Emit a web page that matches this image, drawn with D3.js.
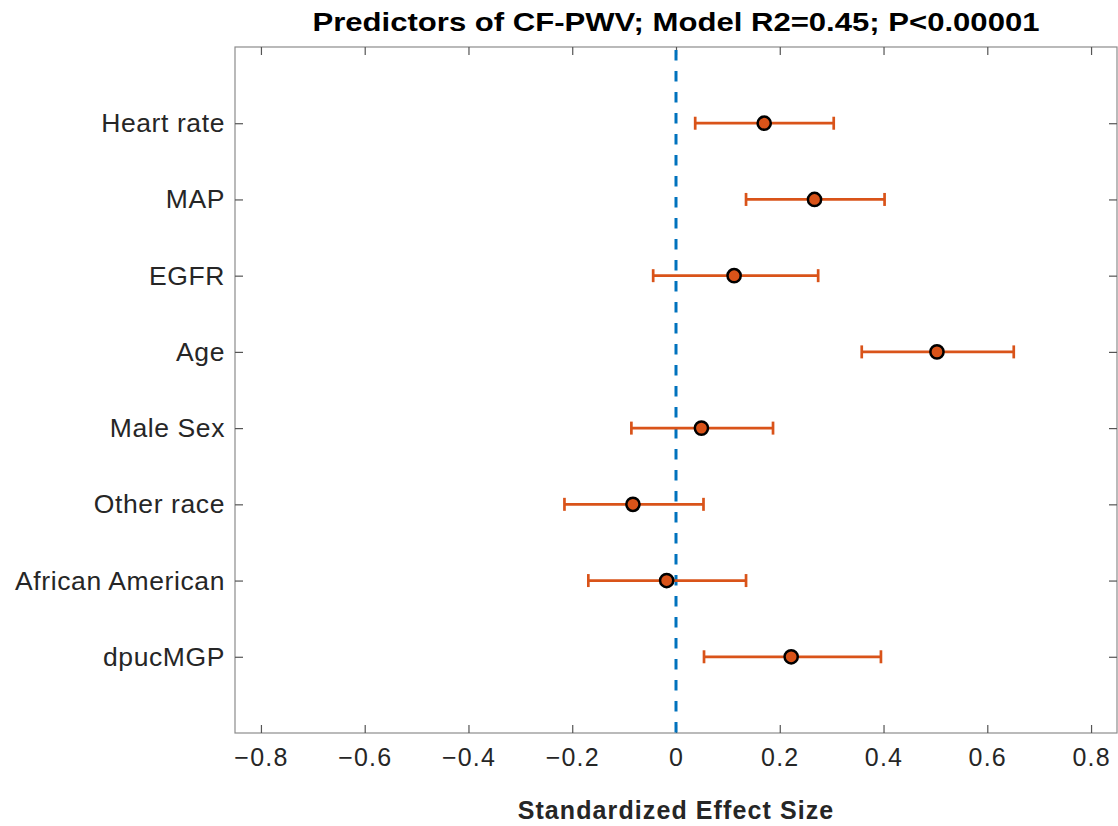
<!DOCTYPE html>
<html>
<head>
<meta charset="utf-8">
<script src="https://cdn.jsdelivr.net/npm/d3@7"></script>
<style>
  html, body { margin: 0; padding: 0; background: #fff; }
  svg { display: block; font-family: "Liberation Sans", Arial, Helvetica, sans-serif; }
</style>
</head>
<body>
<svg id="chart" width="1118" height="826"></svg>
<script>
// Predictors (top to bottom) with standardized effect sizes and 95% CI bounds
const predictors = ["Heart rate", "MAP", "EGFR", "Age", "Male Sex", "Other race", "African American", "dpucMGP"];
const estimates  = [0.170, 0.267, 0.112, 0.503, 0.049, -0.083, -0.018, 0.222];
const lowerCI    = [0.037, 0.135, -0.044, 0.358, -0.086, -0.215, -0.169, 0.054];
const upperCI    = [0.304, 0.402, 0.274, 0.651, 0.187, 0.053, 0.135, 0.395];
const xTicks     = [-0.8, -0.6, -0.4, -0.2, 0, 0.2, 0.4, 0.6, 0.8];

const svg = d3.select("#chart");
const m = { left: 235, right: 1117, top: 47, bottom: 733 };

const x = d3.scaleLinear().domain([-0.85, 0.85]).range([m.left, m.right]);
const y = d3.scaleLinear().domain([0, predictors.length + 1]).range([m.top, m.bottom]);

const orange = "#D95319", blue = "#0072BD", boxCol = "#8c8c8c", textCol = "#262626";
const font = "Liberation Sans, Arial, sans-serif";

// Axes box
svg.append("rect")
  .attr("x", m.left).attr("y", m.top)
  .attr("width", m.right - m.left).attr("height", m.bottom - m.top)
  .attr("fill", "none").attr("stroke", boxCol).attr("stroke-width", 1.2);

// Bottom axis with inward ticks
const xAxis = svg.append("g").attr("transform", `translate(0,${m.bottom})`)
  .call(d3.axisBottom(x).tickValues(xTicks).tickSize(-8).tickPadding(15)
    .tickFormat(d => d === 0 ? "0" : d3.format(".1f")(d).replace("-", "\u2013")));
xAxis.select(".domain").remove();
xAxis.selectAll(".tick line").attr("stroke", "#555").attr("stroke-width", 1.2);
xAxis.selectAll(".tick text").attr("fill", textCol).attr("font-size", 25)
  .attr("letter-spacing", 1.2).attr("font-family", font);

// Top axis mirror ticks
const xTop = svg.append("g").attr("transform", `translate(0,${m.top})`)
  .call(d3.axisTop(x).tickValues(xTicks).tickSize(-8).tickFormat(""));
xTop.select(".domain").remove();
xTop.selectAll(".tick line").attr("stroke", "#555").attr("stroke-width", 1.2);

// Left axis with category labels
const cats = predictors.map((_, i) => i + 1);
const yAxis = svg.append("g").attr("transform", `translate(${m.left},0)`)
  .call(d3.axisLeft(y).tickValues(cats).tickSize(-8).tickPadding(10)
    .tickFormat(d => predictors[d - 1]));
yAxis.select(".domain").remove();
yAxis.selectAll(".tick line").attr("stroke", "#555").attr("stroke-width", 1.2);
yAxis.selectAll(".tick text").attr("fill", textCol).attr("font-size", 26.5)
  .attr("letter-spacing", 0.6).attr("font-family", font);

// Right axis mirror ticks
const yRight = svg.append("g").attr("transform", `translate(${m.right},0)`)
  .call(d3.axisRight(y).tickValues(cats).tickSize(-8).tickFormat(""));
yRight.select(".domain").remove();
yRight.selectAll(".tick line").attr("stroke", "#555").attr("stroke-width", 1.2);

// Zero reference line
svg.append("line")
  .attr("x1", x(0)).attr("x2", x(0))
  .attr("y1", m.top + 3).attr("y2", m.bottom)
  .attr("stroke", blue).attr("stroke-width", 3)
  .attr("stroke-dasharray", "10.5,10.5");

// Error bars
const rows = predictors.map((p, i) => ({ p, i, est: estimates[i], lo: lowerCI[i], hi: upperCI[i] }));
const g = svg.append("g");
g.selectAll("line.ci").data(rows).join("line")
  .attr("x1", d => x(d.lo)).attr("x2", d => x(d.hi))
  .attr("y1", d => y(d.i + 1)).attr("y2", d => y(d.i + 1))
  .attr("stroke", orange).attr("stroke-width", 2.7);
["lo", "hi"].forEach(k => {
  g.selectAll(`line.cap-${k}`).data(rows).join("line")
    .attr("x1", d => x(d[k])).attr("x2", d => x(d[k]))
    .attr("y1", d => y(d.i + 1) - 6.5).attr("y2", d => y(d.i + 1) + 6.5)
    .attr("stroke", orange).attr("stroke-width", 2.7);
});
g.selectAll("circle").data(rows).join("circle")
  .attr("cx", d => x(d.est)).attr("cy", d => y(d.i + 1))
  .attr("r", 6.6).attr("fill", orange)
  .attr("stroke", "#000").attr("stroke-width", 2.5);

// Title and axis label
svg.append("text")
  .attr("x", x(0)).attr("y", 31).attr("text-anchor", "middle")
  .attr("font-size", 25).attr("font-weight", "bold").attr("fill", "#000")
  .attr("textLength", 727).attr("lengthAdjust", "spacingAndGlyphs")
  .text("Predictors of CF-PWV; Model R2=0.45; P<0.00001");
svg.append("text")
  .attr("x", x(0)).attr("y", 819).attr("text-anchor", "middle")
  .attr("font-size", 25).attr("font-weight", "bold").attr("fill", textCol)
  .attr("letter-spacing", 1.1)
  .text("Standardized Effect Size");
</script>
</body>
</html>
